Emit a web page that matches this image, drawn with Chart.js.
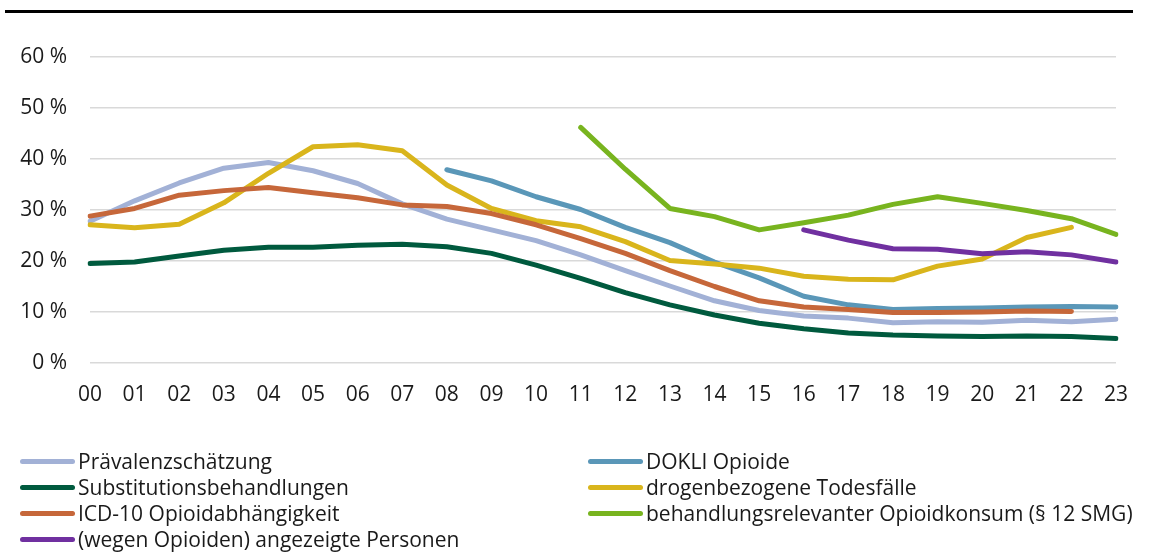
<!DOCTYPE html>
<html>
<head>
<meta charset="utf-8">
<script src="https://cdn.jsdelivr.net/npm/chart.js@4"></script>
<style>
  body { margin: 0; background: #fff; }
  #wrap { position: relative; width: 1152px; height: 554px; overflow: hidden; font-family: "Open Sans", sans-serif; }
  #topline { position: absolute; left: 5px; top: 10px; width: 1128px; height: 3px; background: #000; }
  #legend { position: absolute; left: 0; top: 448px; width: 1152px; }
  .item { position: absolute; height: 26px; display: flex; align-items: center; font-size: 21px; color: #1a1a1a; white-space: nowrap; }
  .swatch { width: 55px; height: 5px; border-radius: 3px; margin-right: 3px; }
</style>
</head>
<body>
<div id="wrap">
  <canvas id="lineChart" width="1152" height="554"></canvas>
  <div id="topline"></div>
  <div id="legend"></div>
</div>
<script>
const years = ["00","01","02","03","04","05","06","07","08","09","10","11","12","13","14","15","16","17","18","19","20","21","22","23"];

const seriesNames = [
  "Prävalenzschätzung",
  "DOKLI Opioide",
  "Substitutionsbehandlungen",
  "drogenbezogene Todesfälle",
  "ICD-10 Opioidabhängigkeit",
  "behandlungsrelevanter Opioidkonsum (§ 12 SMG)",
  "(wegen Opioiden) angezeigte Personen"
];

const praevalenz = [27.8, 31.8, 35.3, 38.2, 39.3, 37.7, 35.2, 31.2, 28.2, 26.1, 24.0, 21.2, 18.1, 15.1, 12.2, 10.3, 9.2, 8.8, 7.9, 8.1, 8.0, 8.4, 8.1, 8.6];
const dokli = [null, null, null, null, null, null, null, null, 37.9, 35.7, 32.6, 30.1, 26.6, 23.6, 19.8, 16.7, 13.1, 11.4, 10.5, 10.7, 10.8, 11.0, 11.1, 11.0];
const substitution = [19.5, 19.8, 21.0, 22.1, 22.7, 22.7, 23.1, 23.3, 22.8, 21.5, 19.2, 16.6, 13.8, 11.4, 9.4, 7.8, 6.7, 5.9, 5.5, 5.3, 5.2, 5.3, 5.2, 4.8];
const todesfaelle = [27.1, 26.5, 27.2, 31.4, 37.2, 42.4, 42.8, 41.6, 34.9, 30.3, 27.9, 26.7, 23.8, 20.1, 19.4, 18.6, 17.0, 16.4, 16.3, 19.0, 20.4, 24.6, 26.6, null];
const icd10 = [28.8, 30.3, 32.9, 33.8, 34.4, 33.4, 32.4, 31.0, 30.7, 29.3, 27.1, 24.4, 21.5, 18.1, 15.0, 12.2, 11.0, 10.5, 9.9, 9.9, 10.0, 10.2, 10.1, null];
const behandlung = [null, null, null, null, null, null, null, null, null, null, null, 46.2, 38.0, 30.3, 28.7, 26.1, 27.5, 29.0, 31.1, 32.6, 31.3, 29.9, 28.3, 25.2];
const angezeigt = [null, null, null, null, null, null, null, null, null, null, null, null, null, null, null, null, 26.1, 24.1, 22.4, 22.3, 21.4, 21.8, 21.2, 19.8];

const yTicks = [0, 10, 20, 30, 40, 50, 60];

const allSeries = [praevalenz, dokli, substitution, todesfaelle, icd10, behandlung, angezeigt];
const colors = ["#a2b1d6", "#5a97b8", "#005a3e", "#d9b51c", "#c6673a", "#78b41f", "#7030a0"];

Chart.defaults.font.family = "'Open Sans', sans-serif";
Chart.defaults.font.size = 21;
Chart.defaults.color = "#1a1a1a";

const datasets = allSeries.map((values, i) => ({
  label: seriesNames[i],
  data: values,
  borderColor: colors[i],
  backgroundColor: colors[i],
  borderWidth: 5,
  borderCapStyle: "round",
  borderJoinStyle: "round",
  pointRadius: 0,
  tension: 0,
  spanGaps: false,
  order: allSeries.length - i
}));

new Chart(document.getElementById("lineChart"), {
  type: "line",
  data: { labels: years, datasets: datasets },
  options: {
    responsive: false,
    animation: false,
    layout: { padding: { top: 57, right: 36, bottom: 151, left: 0 } },
    plugins: { legend: { display: false }, tooltip: { enabled: false } },
    scales: {
      x: {
        offset: false,
        grid: { display: false, drawTicks: false },
        border: { display: false },
        ticks: { padding: 19, maxRotation: 0, autoSkip: false },
        afterFit: s => { s.height = 40; }
      },
      y: {
        min: 0,
        max: 60,
        afterBuildTicks: s => { s.ticks = yTicks.map(v => ({ value: v })); },
        ticks: { padding: 23, callback: v => v + " %" },
        grid: { color: "#d9d9d9", lineWidth: 1.5, drawTicks: false },
        border: { display: false },
        afterFit: s => { s.width = 90; }
      }
    }
  }
});

// legend in two columns, same order as the series
const legend = document.getElementById("legend");
const colX = [20, 588];
seriesNames.forEach((name, i) => {
  const item = document.createElement("div");
  item.className = "item";
  item.style.left = colX[i % 2] + "px";
  item.style.top = (Math.floor(i / 2) * 26) + "px";
  const sw = document.createElement("span");
  sw.className = "swatch";
  sw.style.background = colors[i];
  item.appendChild(sw);
  item.appendChild(document.createTextNode(name));
  legend.appendChild(item);
});
</script>
</body>
</html>
